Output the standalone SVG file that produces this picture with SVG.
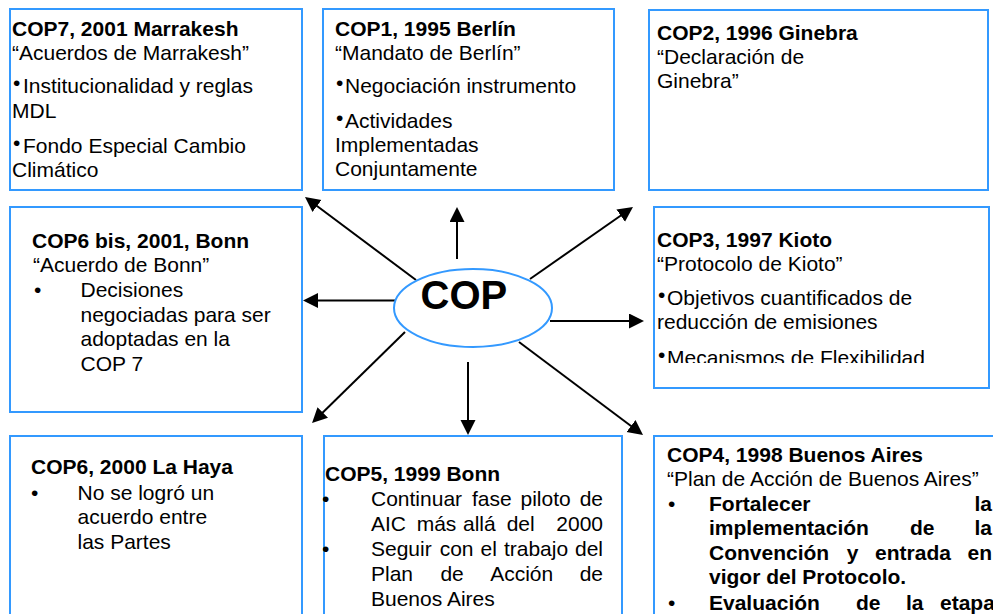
<svg xmlns="http://www.w3.org/2000/svg" width="993" height="614" viewBox="0 0 993 614">
<style>
.box{fill:#fff;stroke:#3399FF;stroke-width:2}
.r{font-family:"Liberation Sans",Arial,sans-serif;font-size:21px;fill:#000}
.b{font-family:"Liberation Sans",Arial,sans-serif;font-size:21px;font-weight:bold;fill:#000}
.big{font-family:"Liberation Sans",Arial,sans-serif;font-size:40px;font-weight:bold;fill:#000}
.e{text-anchor:end}
.arr{stroke:#000;stroke-width:2;fill:none;marker-end:url(#ah)}
</style>
<defs>
<marker id="ah" markerUnits="userSpaceOnUse" markerWidth="16" markerHeight="16" refX="5" refY="7.5" orient="auto">
<path d="M0,0 L15,7.5 L0,15 Z" fill="#000"/>
</marker>
<clipPath id="c3"><rect x="650" y="200" width="343" height="163"/></clipPath>
</defs>
<rect width="993" height="614" fill="#fff"/>

<g id="connectors">
<line class="arr" x1="416" y1="280" x2="313" y2="203"/>
<line class="arr" x1="457" y1="259" x2="457" y2="217"/>
<line class="arr" x1="530" y1="279" x2="624.8" y2="212.7"/>
<line class="arr" x1="395" y1="300.5" x2="313" y2="300.5"/>
<line class="arr" x1="550" y1="321" x2="634" y2="321"/>
<line class="arr" x1="405" y1="332" x2="319.2" y2="416"/>
<line class="arr" x1="468" y1="362" x2="468" y2="425"/>
<line class="arr" x1="519" y1="342" x2="635" y2="429"/>
</g>

<g id="cop">
<ellipse cx="473" cy="308" rx="79" ry="39" class="box"/>
<text class="big" x="420.5" y="309">COP</text>
</g>

<g id="cop7">
<rect class="box" x="10" y="9" width="292" height="181"/>
<text class="b" x="12" y="35.5">COP7, 2001 Marrakesh</text>
<text class="r" x="12" y="59.5">“Acuerdos de Marrakesh”</text>
<text class="r" x="13" y="90">•</text>
<text class="r" x="23" y="93">Institucionalidad y reglas</text>
<text class="r" x="12" y="118">MDL</text>
<text class="r" x="13" y="150">•</text>
<text class="r" x="23" y="153">Fondo Especial Cambio</text>
<text class="r" x="12" y="177">Climático</text>
</g>

<g id="cop1">
<rect class="box" x="323" y="9" width="291" height="181"/>
<text class="b" x="335" y="35.5">COP1, 1995 Berlín</text>
<text class="r" x="335" y="59.5">“Mandato de Berlín”</text>
<text class="r" x="336" y="90">•</text>
<text class="r" x="345" y="93">Negociación instrumento</text>
<text class="r" x="336" y="125">•</text>
<text class="r" x="345" y="128">Actividades</text>
<text class="r" x="335" y="152">Implementadas</text>
<text class="r" x="335" y="176">Conjuntamente</text>
</g>

<g id="cop2">
<rect class="box" x="649" y="10" width="339" height="180"/>
<text class="b" x="657" y="40">COP2, 1996 Ginebra</text>
<text class="r" x="657" y="64">“Declaración de</text>
<text class="r" x="657" y="88">Ginebra”</text>
</g>

<g id="cop6bis">
<rect class="box" x="10" y="207" width="292" height="205"/>
<text class="b" x="32" y="248">COP6 bis, 2001, Bonn</text>
<text class="r" x="33" y="272">“Acuerdo de Bonn”</text>
<text class="r" x="34" y="297">•</text>
<text class="r" x="80.5" y="297">Decisiones</text>
<text class="r" x="80.5" y="321.5">negociadas para ser</text>
<text class="r" x="80.5" y="346">adoptadas en la</text>
<text class="r" x="80.5" y="370.5">COP 7</text>
</g>

<g id="cop3">
<rect class="box" x="654" y="207" width="335" height="181"/>
<text class="b" x="657" y="247">COP3, 1997 Kioto</text>
<text class="r" x="657" y="270.5">“Protocolo de Kioto”</text>
<text class="r" x="658" y="302">•</text>
<text class="r" x="667" y="305">Objetivos cuantificados de</text>
<text class="r" x="657" y="329">reducción de emisiones</text>
<g clip-path="url(#c3)">
<text class="r" x="658" y="361.5">•</text>
<text class="r" x="667" y="364.5">Mecanismos de Flexibilidad</text>
</g>
</g>

<g id="cop6">
<rect class="box" x="10" y="436" width="292" height="200"/>
<text class="b" x="31" y="474">COP6, 2000 La Haya</text>
<text class="r" x="31" y="499.5">•</text>
<text class="r" x="77.5" y="499.5">No se logró un</text>
<text class="r" x="77.5" y="524">acuerdo entre</text>
<text class="r" x="77.5" y="548.5">las Partes</text>
</g>

<g id="cop5">
<rect class="box" x="324" y="436" width="298" height="200"/>
<text class="b" x="325" y="481">COP5, 1999 Bonn</text>
<text class="r" x="322" y="506">•</text>
<text class="r" y="506"><tspan x="371">Continuar</tspan><tspan x="471.9">fase</tspan><tspan x="520.5">piloto</tspan></text>
<text class="r e" x="603" y="506">de</text>
<text class="r" y="531"><tspan x="371">AIC</tspan><tspan x="416.7">más</tspan><tspan x="463">allá</tspan><tspan x="506.7">del</tspan></text>
<text class="r e" x="603" y="531">2000</text>
<text class="r" x="322" y="556">•</text>
<text class="r" y="556"><tspan x="371">Seguir</tspan><tspan x="439.7">con</tspan><tspan x="480.6">el</tspan><tspan x="503.9">trabajo</tspan></text>
<text class="r e" x="603" y="556">del</text>
<text class="r" y="581"><tspan x="371">Plan</tspan><tspan x="440.4">de</tspan><tspan x="490.2">Acción</tspan></text>
<text class="r e" x="603" y="581">de</text>
<text class="r" x="371" y="605.5">Buenos Aires</text>
</g>

<g id="cop4">
<rect class="box" x="654" y="436" width="360" height="200"/>
<text class="b" x="667" y="462">COP4, 1998 Buenos Aires</text>
<text class="r" x="667" y="486">“Plan de Acción de Buenos Aires”</text>
<text class="r" x="668" y="510.5">•</text>
<text class="b" x="709" y="510.5">Fortalecer</text>
<text class="b e" x="992" y="510.5">la</text>
<text class="b" y="535"><tspan x="709">implementación</tspan><tspan x="910">de</tspan></text>
<text class="b e" x="992" y="535">la</text>
<text class="b" y="559.5"><tspan x="709">Convención</tspan><tspan x="846.8">y</tspan><tspan x="875.1">entrada</tspan></text>
<text class="b e" x="992" y="559.5">en</text>
<text class="b" x="709" y="584">vigor del Protocolo.</text>
<text class="r" x="668" y="609.5">•</text>
<text class="b" y="609.5"><tspan x="709">Evaluación</tspan><tspan x="856">de</tspan><tspan x="906">la</tspan><tspan x="940">etapa</tspan></text>
</g>
</svg>
